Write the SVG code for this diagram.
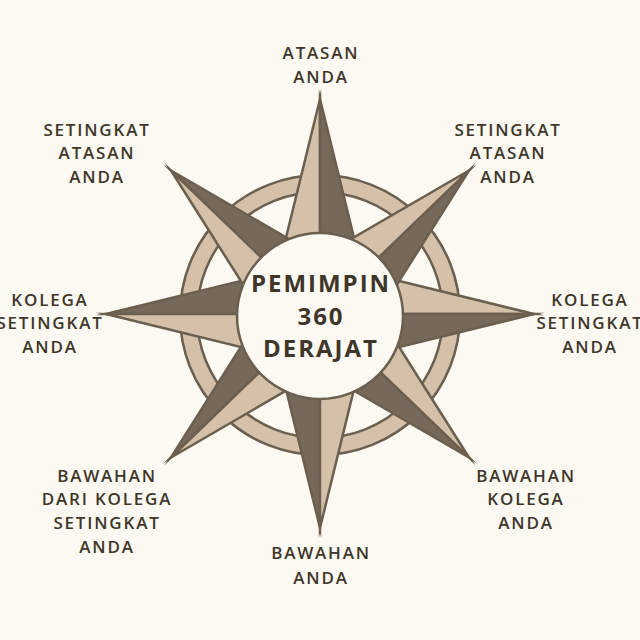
<svg xmlns="http://www.w3.org/2000/svg" width="640" height="640" viewBox="0 0 640 640">
<style>
.lt{fill:#d5c1aa;stroke:#6b5f4f;stroke-width:2.5;stroke-linejoin:miter;stroke-miterlimit:12}
.dk{fill:#75695a;stroke:#6b5f4f;stroke-width:2.5;stroke-linejoin:miter;stroke-miterlimit:12}
.lbl{font-family:"Open Sans","Liberation Sans",sans-serif;font-size:17px;font-weight:600;letter-spacing:1.8px;fill:#3e3629;text-anchor:middle}
.ctr{font-family:"Open Sans","Liberation Sans",sans-serif;font-size:24px;font-weight:700;letter-spacing:2px;fill:#3e3629;text-anchor:middle}
</style>
<rect width="640" height="640" fill="#fcf9f2"/>
<g id="compass">
<path d="M180 315a140 140 0 1 0 280 0a140 140 0 1 0 -280 0Z M197 315a123 123 0 1 0 246 0a123 123 0 1 0 -246 0Z" fill="#d5c1aa" fill-rule="evenodd" stroke="#6b5f4f" stroke-width="2.5"/>
<polygon class="lt" points="320,99 267.3,314 320,314"/>
<polygon class="dk" points="320,99 372.7,314 320,314"/>
<polygon class="lt" points="534,314 320,261.6 320,314"/>
<polygon class="dk" points="534,314 320,366.4 320,314"/>
<polygon class="dk" points="320,528 267.6,314 320,314"/>
<polygon class="lt" points="320,528 372.4,314 320,314"/>
<polygon class="dk" points="106,314 320,261.6 320,314"/>
<polygon class="lt" points="106,314 320,366.4 320,314"/>
<polygon class="dk" points="171,170.5 355.2,277.5 320,314"/>
<polygon class="lt" points="171,170.5 284.8,350.5 320,314"/>
<polygon class="dk" points="469,170.5 355.2,350.5 320,314"/>
<polygon class="lt" points="469,170.5 284.8,277.5 320,314"/>
<polygon class="dk" points="469,457.5 284.8,350.5 320,314"/>
<polygon class="lt" points="469,457.5 355.2,277.5 320,314"/>
<polygon class="dk" points="171,457.5 284.8,277.5 320,314"/>
<polygon class="lt" points="171,457.5 355.2,350.5 320,314"/>
<circle cx="320" cy="316" r="83" fill="#fcf9f2" stroke="#6b5f4f" stroke-width="2.5"/>
</g>
<g id="center-label">
<text class="ctr" x="321" y="292">PEMIMPIN</text>
<text class="ctr" x="321" y="325">360</text>
<text class="ctr" x="321" y="357">DERAJAT</text>
</g>
<g id="atasan">
<text class="lbl" x="321" y="59">ATASAN</text>
<text class="lbl" x="321" y="83">ANDA</text>
</g>
<g id="setingkat-atasan-left">
<text class="lbl" x="97" y="136">SETINGKAT</text>
<text class="lbl" x="97" y="159">ATASAN</text>
<text class="lbl" x="97" y="183">ANDA</text>
</g>
<g id="setingkat-atasan-right">
<text class="lbl" x="508" y="136">SETINGKAT</text>
<text class="lbl" x="508" y="159">ATASAN</text>
<text class="lbl" x="508" y="183">ANDA</text>
</g>
<g id="kolega-left">
<text class="lbl" x="50" y="306">KOLEGA</text>
<text class="lbl" x="50" y="329">SETINGKAT</text>
<text class="lbl" x="50" y="353">ANDA</text>
</g>
<g id="kolega-right">
<text class="lbl" x="590" y="306">KOLEGA</text>
<text class="lbl" x="590" y="329">SETINGKAT</text>
<text class="lbl" x="590" y="353">ANDA</text>
</g>
<g id="bawahan-kolega-setingkat">
<text class="lbl" x="107" y="482">BAWAHAN</text>
<text class="lbl" x="107" y="505">DARI KOLEGA</text>
<text class="lbl" x="107" y="529">SETINGKAT</text>
<text class="lbl" x="107" y="553">ANDA</text>
</g>
<g id="bawahan-kolega">
<text class="lbl" x="526" y="482">BAWAHAN</text>
<text class="lbl" x="526" y="505">KOLEGA</text>
<text class="lbl" x="526" y="529">ANDA</text>
</g>
<g id="bawahan">
<text class="lbl" x="321" y="559">BAWAHAN</text>
<text class="lbl" x="321" y="584">ANDA</text>
</g>
</svg>
